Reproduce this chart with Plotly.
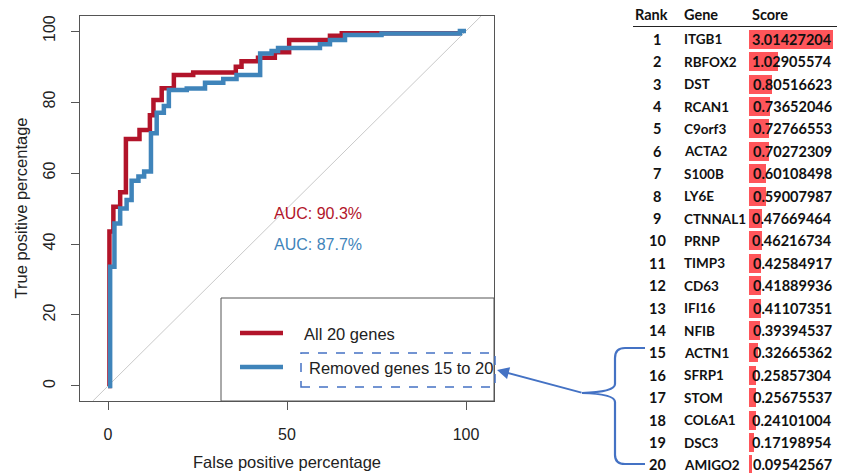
import plotly.graph_objects as go

W, H = 848, 473

# ROC step curves: corner points (false positive %, true positive %)
all_fpr = [0, 0.4, 1.5, 3.4, 5.0, 8.8, 11.7, 12.7, 15.0, 18.4, 23.8, 35.7, 37.3,
           41.9, 46.6, 50.6, 62.0, 65.3, 98.3]
all_tpr = [0, 43.5, 50.5, 54.6, 69.6, 72.1, 76.3, 80.6, 83.9, 87.6, 88.3, 89.9, 91.5,
           92.5, 94.0, 97.5, 98.7, 99.4, 99.4]

rm_fpr = [0, 0.6, 1.8, 3.4, 5.2, 6.6, 8.5, 10.1, 12.0, 13.6, 15.6, 17.0, 22.0, 27.1,
          32.2, 35.9, 42.5, 45.7, 47.5, 59.2, 62.0, 66.2, 76.4, 98.3, 100]
rm_tpr = [0, 33.6, 45.8, 50.0, 52.4, 57.8, 59.0, 60.4, 71.2, 77.0, 78.9, 83.4, 83.8, 85.4,
          86.5, 87.6, 93.7, 94.4, 95.2, 96.3, 97.5, 98.9, 99.3, 100, 100]

series_names = ["All 20 genes", "Removed genes 15 to 20"]
auc_labels = ["AUC: 90.3%", "AUC: 87.7%"]
RED, BLUE = "#B2142A", "#3F84BA"

# Ranked gene table
ranks = list(range(1, 21))
genes = ["ITGB1", "RBFOX2", "DST", "RCAN1", "C9orf3", "ACTA2", "S100B", "LY6E",
         "CTNNAL1", "PRNP", "TIMP3", "CD63", "IFI16", "NFIB", "ACTN1", "SFRP1",
         "STOM", "COL6A1", "DSC3", "AMIGO2"]
scores = [3.01427204, 1.02905574, 0.80516623, 0.73652046, 0.72766553, 0.70272309,
          0.60108498, 0.59007987, 0.47669464, 0.46216734, 0.42584917, 0.41889936,
          0.41107351, 0.39394537, 0.32665362, 0.25857304, 0.25675537, 0.24101004,
          0.17198954, 0.09542567]
table_header = ["Rank", "Gene", "Score"]

FONT = "Liberation Sans, Arial, sans-serif"
TFONT = "Lato, Open Sans, sans-serif"
OFFICE_BLUE = "#4472C4"


def px(x):
    return x / W


def py(y):
    return 1 - y / H


fig = go.Figure()

# chance diagonal
fig.add_trace(go.Scatter(x=[-4.23, 104.23], y=[-4.23, 104.23], mode="lines",
                         line=dict(color="#C9C9C9", width=1), hoverinfo="skip",
                         showlegend=False))
fig.add_trace(go.Scatter(x=all_fpr, y=all_tpr, mode="lines", line_shape="hv",
                         line=dict(color=RED, width=4.5), name=series_names[0],
                         showlegend=False))
fig.add_trace(go.Scatter(x=rm_fpr, y=rm_tpr, mode="lines", line_shape="hv",
                         line=dict(color=BLUE, width=4.5), name=series_names[1],
                         showlegend=False))

# score bars of the table
fig.add_trace(go.Bar(x=scores, y=ranks, base=0, orientation="h", width=0.85,
                     marker=dict(color="#FF555A", line=dict(width=0)),
                     xaxis="x3", yaxis="y3", showlegend=False, hoverinfo="skip"))

axis_common = dict(showgrid=False, zeroline=False, showline=True, mirror=True,
                   linecolor="#555555", linewidth=1, ticks="outside", ticklen=8,
                   tickcolor="#555555", tickwidth=1,
                   tickfont=dict(family=FONT, size=16, color="#222222"))

fig.update_layout(
    width=W, height=H, margin=dict(l=0, r=0, t=0, b=0),
    paper_bgcolor="white", plot_bgcolor="white",
    xaxis=dict(domain=[px(80), px(494)], range=[-7.82, 107.82],
               tickvals=[0, 50, 100], ticklabelstandoff=11, **axis_common),
    yaxis=dict(domain=[py(401), py(16)], range=[-4.23, 104.23],
               tickvals=[0, 20, 40, 60, 80, 100], tickangle=-90,
               ticklabelstandoff=10, **axis_common),
    xaxis3=dict(domain=[px(620), 1], range=[(620 - 749) / 28, (848 - 749) / 28],
                visible=False, anchor="y3"),
    yaxis3=dict(domain=[0, 1], range=[20.36, -0.754], visible=False, anchor="x3"),
    bargap=0,
)

ann = []
# axis titles
ann.append(dict(text="False positive percentage", x=px(287), y=py(462),
                xref="paper", yref="paper", xanchor="center", yanchor="middle",
                showarrow=False, font=dict(family=FONT, size=16.5, color="#222222")))
ann.append(dict(text="True positive percentage", x=px(20), y=py(208.5),
                xref="paper", yref="paper", xanchor="center", yanchor="middle",
                showarrow=False, textangle=-90,
                font=dict(family=FONT, size=16.5, color="#222222")))
# AUC labels
for lab, col, yy in zip(auc_labels, [RED, BLUE], [48.7, 40.0]):
    ann.append(dict(text=lab, x=58.7, y=yy, xref="x", yref="y", showarrow=False,
                    xanchor="center", yanchor="middle",
                    font=dict(family=FONT, size=16, color=col)))

# legend box
shapes = [dict(type="rect", xref="paper", yref="paper", x0=px(221), x1=px(494),
               y0=py(401), y1=py(298), line=dict(color="#555555", width=1),
               fillcolor="white", layer="below")]
for name, col, ly, tx in zip(series_names, [RED, BLUE], [333, 367], [302, 307]):
    shapes.append(dict(type="line", xref="paper", yref="paper", x0=px(240), x1=px(283),
                       y0=py(ly), y1=py(ly), line=dict(color=col, width=4.5)))
    ann.append(dict(text=name, x=px(tx), y=py(ly + 1), xref="paper", yref="paper",
                    xanchor="left", yanchor="middle", showarrow=False,
                    font=dict(family=FONT, size=16.5, color="#222222")))

# dashed highlight around the second legend entry
shapes.append(dict(type="rect", xref="paper", yref="paper", x0=px(301), x1=px(495),
                   y0=py(387), y1=py(353),
                   line=dict(color=OFFICE_BLUE, width=1.5, dash="dash")))

# brace grouping ranks 15-20
pts = "M {a},{b} L {c},{b} Q {d},{b} {d},{e} L {d},{f} Q {d},{g} {h},{i} Q {d},{j} {d},{k} L {d},{l} Q {d},{m} {c},{m} L {a},{m}"
brace = pts.format(a=px(645), b=py(348), c=px(625), d=px(615), e=py(358),
                   f=py(384), g=py(392), h=px(582), i=py(393), j=py(394),
                   k=py(402), l=py(455), m=py(464))
shapes.append(dict(type="path", xref="paper", yref="paper", path=brace,
                   line=dict(color=OFFICE_BLUE, width=2.2)))

# arrow from brace to the highlighted legend entry
ann.append(dict(x=px(497), y=py(370), xref="paper", yref="paper", text="",
                showarrow=True, axref="pixel", ayref="pixel", ax=86, ay=23,
                arrowhead=2, arrowsize=1.2, arrowwidth=2, arrowcolor=OFFICE_BLUE))

# table header
to_x3 = lambda p: (p - 749) / 28
to_y3 = lambda p: (p - 39.3) / 22.4 + 1
hdr_font = dict(family=TFONT, size=14.5, color="#111111", weight="bold")
row_font = dict(family=TFONT, size=14.5, color="#111111", weight="bold")
ann.append(dict(text=table_header[0], x=to_x3(651.5), y=to_y3(15), xref="x3", yref="y3",
                showarrow=False, font=hdr_font))
ann.append(dict(text=table_header[1], x=to_x3(682), y=to_y3(15), xref="x3", yref="y3",
                xanchor="left", showarrow=False, font=hdr_font))
ann.append(dict(text=table_header[2], x=to_x3(750), y=to_y3(15), xref="x3", yref="y3",
                xanchor="left", showarrow=False, font=hdr_font))
shapes.append(dict(type="line", xref="x3", yref="y3", x0=to_x3(633), x1=to_x3(837),
                   y0=to_y3(26.5), y1=to_y3(26.5), line=dict(color="#222222", width=1.2)))

# table rows
for r, g, s in zip(ranks, genes, scores):
    ann.append(dict(text=str(r), x=to_x3(657), y=r, xref="x3", yref="y3",
                    showarrow=False, font=row_font))
    ann.append(dict(text=g, x=to_x3(682), y=r, xref="x3", yref="y3", xanchor="left",
                    showarrow=False, font=dict(row_font, size=13.5)))
    ann.append(dict(text=f"{s:.8f}", x=to_x3(834), y=r, xref="x3", yref="y3",
                    xanchor="right", showarrow=False, font=row_font))

fig.update_layout(annotations=ann, shapes=shapes)
fig.write_html("out.html")
